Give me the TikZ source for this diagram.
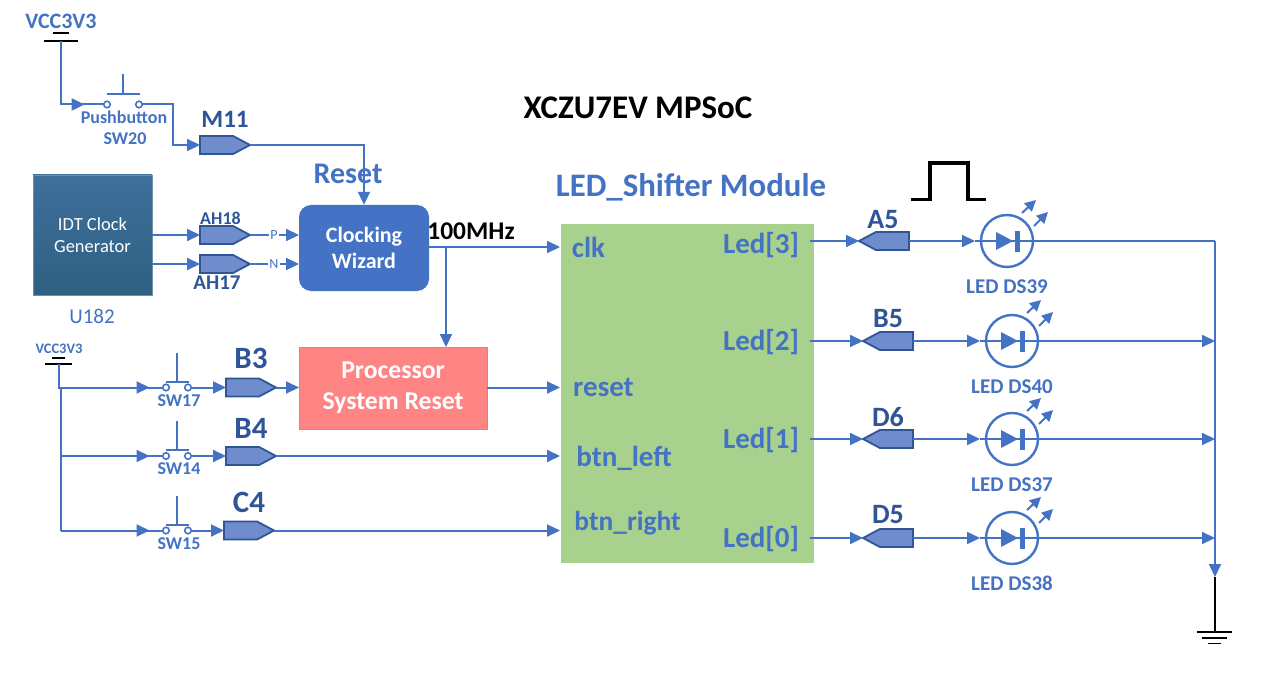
\documentclass[tikz,border=0pt]{standalone}
\usepackage{fontspec}
\setmainfont{Carlito}
\usetikzlibrary{arrows.meta,shapes.symbols,decorations.markings}
\definecolor{wireblue}{HTML}{4472C4}
\definecolor{pinfill}{HTML}{6F8DCC}
\definecolor{pinedge}{HTML}{2F5597}
\definecolor{labelblue}{HTML}{2F5597}
\definecolor{greenbox}{HTML}{A9D18E}
\definecolor{pinkbox}{HTML}{FF8585}
\definecolor{IDTtop}{HTML}{3F6F9B}
\definecolor{IDTbot}{HTML}{2E6082}
\newcommand{\fsz}[1]{\fontsize{#1}{#1}\selectfont}
\tikzset{
  x=1pt,y=-1pt,
  wire/.style={draw=wireblue,line width=2pt},
  blk/.style={draw=black,line width=1.8pt},
  tipend/.style={-{Triangle[length=13pt,width=12pt]}},
  tipat/.style={postaction={decorate},decoration={markings,mark=at position #1 with {\arrow{Triangle[length=13pt,width=12pt]}}}},
  pinout/.style={shape=signal,signal to=east,signal from=nowhere,signal pointer angle=56,fill=pinfill,draw=pinedge,line width=1.8pt,minimum width=50pt,minimum height=18pt,inner sep=0pt,outer sep=0pt},
  pinin/.style={pinout,signal to=west},
  contact/.style={circle,draw=wireblue,line width=1.6pt,fill=white,minimum size=6.5pt,inner sep=0pt,outer sep=0pt},
  ledc/.style={circle,draw=wireblue,line width=2.4pt,minimum size=52pt,inner sep=0pt,outer sep=0pt},
  ptxt/.style={text=labelblue,font=\fsz{25}\bfseries,inner sep=0pt},
  itxt/.style={text=wireblue,font=\fsz{18}\bfseries,inner sep=0pt},
  sigtxt/.style={text=wireblue,font=\fsz{29}\bfseries,inner sep=0pt},
  boxtxt/.style={text=white,font=\fsz{22}\bfseries,align=center,inner sep=0pt},
}
\begin{document}
\begin{tikzpicture}
\useasboundingbox[fill=white] (0,0) rectangle (1280,679);

% blocks
\node[minimum width=119pt,minimum height=120pt,inner sep=0pt,top color=IDTtop,bottom color=IDTbot,draw=IDTbot!70!white,line width=.8pt,text=white,align=center,font=\fsz{18.5}] (idt) at (92.5,235) {IDT Clock\\[3.5pt]Generator};
\node[text=wireblue,font=\fsz{21},inner sep=0pt] (u182) at (92,316) {U182};
\node[minimum width=130pt,minimum height=86pt,inner sep=0pt,fill=wireblue,rounded corners=12pt,boxtxt] (cw) at (364,248) {\raisebox{1pt}{Clocking}\\[4pt]\raisebox{1pt}{Wizard}};
\node[minimum width=188pt,minimum height=82pt,inner sep=0pt,fill=pinkbox,draw=pinkbox!70!gray,line width=.5pt,boxtxt,font=\fsz{25.7}\bfseries] (psr) at (393,388) {\raisebox{-2pt}{Processor}\\[5.5pt]\raisebox{-2pt}{System Reset}};
\node[minimum width=253pt,minimum height=339pt,inner sep=0pt,fill=greenbox] (shift) at (687.5,393.5) {};

% titles
\node[text=black,font=\fsz{33}\bfseries,inner sep=0pt] (title) at (638,108) {XCZU7EV MPSoC};
\node[text=wireblue,font=\fsz{32.8}\bfseries,inner sep=0pt] (modt) at (691,187) {LED\_Shifter Module};
\node[text=black,font=\fsz{25.5}\bfseries,inner sep=0pt] (mhz) at (471,231) {100MHz};
\node[text=wireblue,font=\fsz{30}\bfseries,inner sep=0pt] (rst) at (348,174) {Reset};

% module ports
\node[sigtxt] (pclk) at (588.5,247) {clk};
\node[sigtxt] (prst) at (603.5,387) {reset};
\node[sigtxt] (pbl) at (624,458) {btn\_left};
\node[sigtxt,font=\fsz{27.5}\bfseries] (pbr) at (627.5,523.5) {btn\_right};
\node[sigtxt] (l3) at (761,245.5) {Led[3]};
\node[sigtxt] (l2) at (761,342.5) {Led[2]};
\node[sigtxt] (l1) at (761,440.5) {Led[1]};
\node[sigtxt] (l0) at (761,539.5) {Led[0]};

% top switch
\node[itxt,font=\fsz{22}\bfseries] (vcca) at (61,21) {VCC3V3};
\coordinate (vcct) at (61,41);
\draw[blk] (53,33) -- (69,33);
\draw[blk] (44,41) -- (78,41);
\node[contact] (sw20a) at (107,104.5) {};
\node[contact] (sw20b) at (139,104.5) {};
\draw[wire] (107,94) -- (140,94);
\draw[wire] (123,74) -- (123,94);
\node[itxt] (sw20l) at (124,117) {Pushbutton};
\node[itxt] (sw20n) at (125,139) {SW20};
\node[pinout,anchor=west] (m11) at (200,145) {};
\node[ptxt] at (225,119) (m11l) {M11};
\draw[wire,tipat=0.82] (vcct) |- (sw20a);
\draw[wire,tipend] (sw20b) -| (173,145) -- (m11.west);
\draw[wire,tipend] (m11.east) -| (cw.north);

% clock pins
\node[pinout,anchor=west] (ah18) at (200,235) {};
\node[pinout,anchor=west] (ah17) at (200,264) {};
\node[itxt,font=\fsz{18}\bfseries,text=labelblue] (ah18l) at (220.5,218) {AH18};
\node[itxt,font=\fsz{21}\bfseries,text=labelblue] (ah17l) at (217,283) {AH17};
\coordinate (cwp) at (299,235);
\coordinate (cwn) at (299,264);
\coordinate (idtp) at (152,235);
\coordinate (idtn) at (152,264);
\draw[wire,tipend] (idtp) -- (ah18.west);
\draw[wire,tipend] (idtn) -- (ah17.west);
\draw[wire,tipend] (ah18.east) -- (cwp);
\draw[wire,tipend] (ah17.east) -- (cwn);
\node[fill=white,text=wireblue,font=\fsz{14},inner sep=1pt] (pl) at (274,235) {P};
\node[fill=white,text=wireblue,font=\fsz{14},inner sep=1pt] (nl) at (274,264) {N};

% clock net
\coordinate (cwo) at (429,247);
\coordinate (clkin) at (560,247);
\coordinate (brk) at (446,247);
\coordinate (psrt) at (446,347);
\draw[wire,tipend] (cwo) -- (clkin);
\draw[wire,tipend] (brk) -- (psrt);
\coordinate (rstin) at (560,387.5);
\coordinate (psro) at (487,387.5);
\draw[wire,tipend] (psro) -- (rstin);

% lower left supply
\node[itxt,font=\fsz{14.5}\bfseries] (vccb) at (59,349) {VCC3V3};
\draw[blk] (52,358) -- (65,358);
\draw[blk] (45,364) -- (72,364);
\coordinate (vb) at (59,364);
\foreach \s/\y/\px/\pn/\ly/\e in {17/387.5/226/B3/358/299,14/456/226/B4/428/560,15/530.5/224/C4/502/560}{
  \node[contact] (sw\s a) at (166,\y) {};
  \node[contact] (sw\s b) at (188,\y) {};
  \coordinate (sw\s t) at (177,\y-6);
  \draw[wire] (166,\y-6) -- (189,\y-6);
  \draw[wire] (sw\s t) -- (177,\y-35);
  \node[itxt] (sw\s l) at (179,\y+13) {SW\s};
  \node[pinout,anchor=west] (pin\s) at (\px,\y) {};
  \node[ptxt,font=\fsz{31}\bfseries] (pin\s l) at (\px+25,\ly) {\pn};
  \coordinate (in\s) at (\e,\y);
  \coordinate (bus\s) at (61,\y);
  \draw[wire,tipat=0.87] (bus\s) -- (sw\s a);
  \draw[wire,tipend] (sw\s b) -- (pin\s.west);
  \draw[wire,tipend] (pin\s.east) -- (in\s);
}
\draw[wire] (vb) -- (59,387.5) -- (bus17);
\draw[wire] (bus17) -- (bus15);

% LED rows
\coordinate (railtop) at (1215,241);
\coordinate (railend) at (1215,577);
\coordinate (gnd) at (1215,632);
\foreach \pn/\y/\px/\lx/\ds/\ply/\plx/\dy in {A5/241/909/1007/DS39/220/883/46,B5/341/913/1012/DS40/319/888/46,D6/439/913/1012/DS37/417/888/46,D5/538/913/1012/DS38/515/888/45}{
  \coordinate (ledout\pn) at (810,\y);
  \node[pinin,anchor=east] (pin\pn) at (\px,\y) {};
  \node[ptxt,font=\fsz{28}\bfseries] (lab\pn) at (\plx,\ply) {\pn};
  \node[ledc] (led\pn) at (\lx,\y) {};
  \node[itxt,font=\fsz{21}\bfseries] (ledl\pn) at (\lx,\y+\dy) {LED \ds};
  \draw[wire,tipend] (ledout\pn) -- (pin\pn.west);
  \draw[wire,tipend] (pin\pn.east) -- ([xshift=-6pt]led\pn.west);
  \draw[wire] ([xshift=-6pt]led\pn.west) -- (led\pn.east);
  \fill[wireblue] (\lx-11,\y-9) -- (\lx+6,\y) -- (\lx-11,\y+9) -- cycle;
  \fill[wireblue] (\lx+8,\y-10) rectangle (\lx+13,\y+11);
  \draw[wire,-{Triangle[length=11pt,width=11pt]}] (\lx+15,\y-28) -- (\lx+29,\y-41);
  \draw[wire,-{Triangle[length=11pt,width=11pt]}] (\lx+27,\y-15) -- (\lx+41,\y-29);
  \coordinate (railj\pn) at (1215,\y);
  \ifnum\y=241
    \draw[wire] (led\pn.east) -- (railj\pn);
  \else
    \draw[wire,tipend] (led\pn.east) -- (railj\pn);
  \fi
}
\draw[wire,tipend] (railtop) -- (railend);
\draw[blk] (railend) -- (gnd);
\draw[blk] (1197,632) -- (1232,632);
\draw[blk] (1202,638) -- (1227,638);
\draw[blk] (1208,643.5) -- (1221,643.5);

% pulse
\draw[black,line width=3.5pt,line join=miter] (911,199.5) -- (930,199.5) -- (930,163) -- (968,163) -- (968,199.5) -- (986,199.5);
\end{tikzpicture}
\end{document}
